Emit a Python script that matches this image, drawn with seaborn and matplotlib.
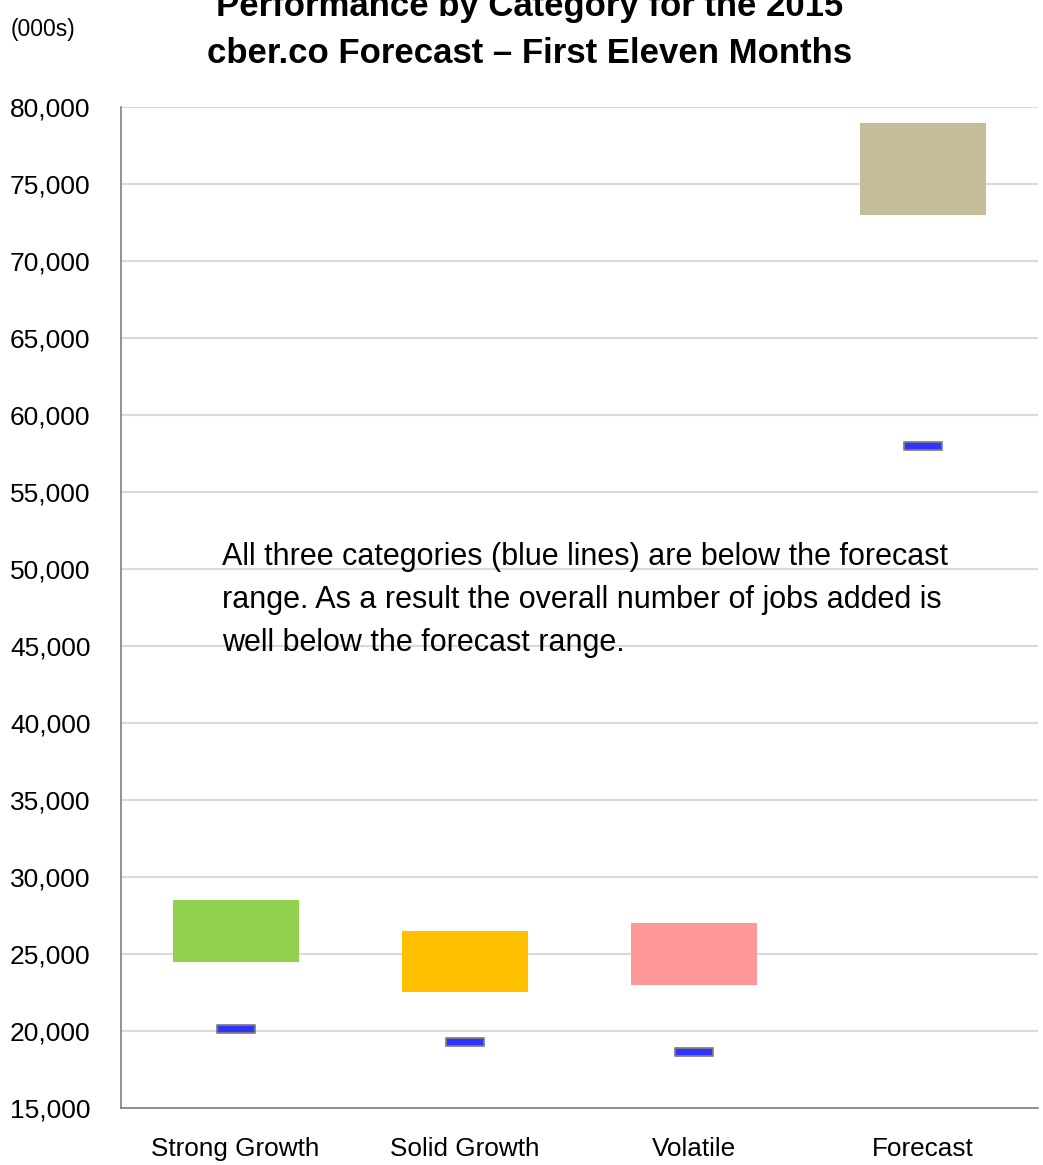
import seaborn as sns
import matplotlib.pyplot as plt
import pandas as pd
from matplotlib.path import Path
from matplotlib.ticker import FuncFormatter

categories = ["Strong Growth", "Solid Growth", "Volatile", "Forecast"]
range_low = [24500, 22500, 23000, 73000]
range_high = [28500, 26500, 27000, 79000]
actual = [20100, 19300, 18600, 58000]
bar_colors = ["#92D050", "#FFC000", "#FF9999", "#C4BD97"]

df = pd.DataFrame({
    "category": categories,
    "span": [h - l for h, l in zip(range_high, range_low)],
    "low": range_low,
    "actual": actual,
})

sns.set_style("white")
plt.rcParams["font.family"] = ["Liberation Sans Narrow", "Liberation Sans", "DejaVu Sans"]
plt.rcParams["text.color"] = "black"
plt.rcParams["xtick.color"] = "black"
plt.rcParams["ytick.color"] = "black"

fig = plt.figure(figsize=(10.43, 11.65), dpi=100)
ax = fig.add_axes([0.116, 0.049, 0.879, 0.859])

sns.barplot(data=df, x="category", y="span", hue="category", palette=bar_colors,
            width=0.55, legend=False, ax=ax, saturation=1, linewidth=0)
for patch, low in zip(ax.patches, range_low):
    patch.set_y(low)

# blue marks for actual values
rect = Path([(-1, -0.23), (1, -0.23), (1, 0.23), (-1, 0.23), (-1, -0.23)],
            [Path.MOVETO, Path.LINETO, Path.LINETO, Path.LINETO, Path.CLOSEPOLY])
sns.scatterplot(data=df, x="category", y="actual", marker=rect, s=750,
                color="#3333FF", edgecolor="#808080", linewidth=1.3, ax=ax, zorder=5)

ax.set_ylim(15000, 80000)
ax.set_xlim(-0.5, 3.5)
ax.set_yticks(range(15000, 80001, 5000))
ax.yaxis.set_major_formatter(FuncFormatter(lambda v, p: f"{int(v):,}"))
ax.grid(axis="y", color="#D9D9D9", linewidth=1.5)
ax.set_axisbelow(True)

ax.set_xticks([-0.5, 0.5, 1.5, 2.5, 3.5])
ax.set_xticklabels([])
ax.set_xticks(range(len(categories)), minor=True)
ax.set_xticklabels(categories, minor=True, fontsize=18.8)
ax.tick_params(axis="x", which="major", length=9, width=1.2, color="#808080", direction="out")
ax.tick_params(axis="x", which="minor", length=0, pad=21)
ax.tick_params(axis="y", length=6, width=1.2, color="#808080", direction="out", labelsize=19, pad=16)

for side in ["top", "right"]:
    ax.spines[side].set_visible(False)
for side in ["left", "bottom"]:
    ax.spines[side].set_color("#808080")
    ax.spines[side].set_linewidth(1.2)

ax.set_xlabel("")
ax.set_ylabel("")

fig.text(0.508, 0.974, "Performance by Category for the 2015\ncber.co Forecast \u2013 First Eleven Months",
         ha="center", va="center", fontsize=25, fontweight="bold", linespacing=1.55)
fig.text(0.01, 0.975, "(000s)", ha="left", va="center", fontsize=16.5)
fig.text(0.213, 0.485,
         "All three categories (blue lines) are below the forecast\n"
         "range. As a result the overall number of jobs added is\n"
         "well below the forecast range.",
         ha="left", va="center", fontsize=22, linespacing=1.55)

fig.savefig("out.png", dpi=100)
